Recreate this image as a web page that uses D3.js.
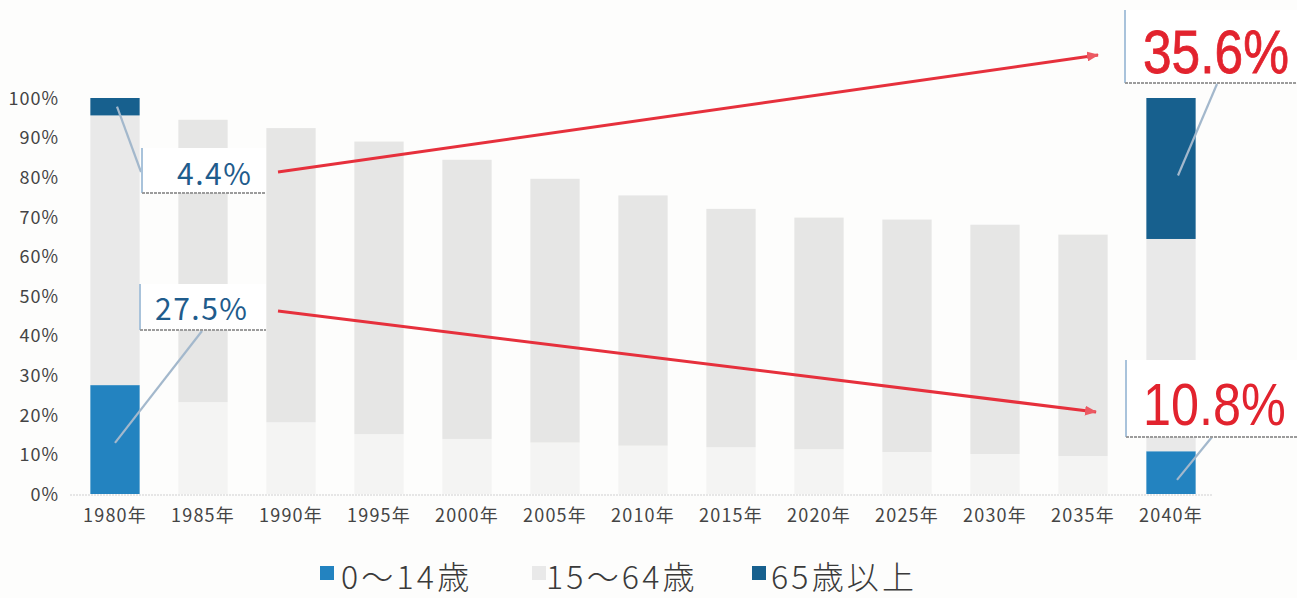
<!DOCTYPE html>
<html><head><meta charset="utf-8">
<script src="https://cdn.jsdelivr.net/npm/d3@7"></script>
<style>
html,body{margin:0;padding:0;background:#fdfdfc;}
svg{display:block;font-family:"Noto Sans CJK JP","Noto Sans",sans-serif;}
</style></head>
<body>
<svg id="chart" width="1297" height="598"></svg>
<script>
// ---- data ----
const years = ["1980年","1985年","1990年","1995年","2000年","2005年","2010年","2015年","2020年","2025年","2030年","2035年","2040年"];
const age0_14  = [27.5, 23.2, 18.1, 15.1, 13.9, 13.0, 12.2, 11.8, 11.3, 10.6, 10.1, 9.6, 10.8];
const age15_64 = [68.1, 71.3, 74.3, 73.9, 70.5, 66.6, 63.2, 60.2, 58.5, 58.7, 57.9, 55.9, 53.6];
const age65    = [4.4, 5.5, 7.6, 11.0, 15.6, 20.4, 24.6, 28.0, 30.2, 30.7, 32.0, 34.5, 35.6];
const yTicks = [0,10,20,30,40,50,60,70,80,90,100];
const seriesNames = ["0～14歳","15～64歳","65歳以上"];
const focusYears = ["1980年","2040年"];

const svg = d3.select("#chart");
const W = 1297, H = 598;
svg.append("rect").attr("width",W).attr("height",H).attr("fill","#fdfdfc");

const x = d3.scaleBand().domain(years).range([71,1215]).paddingInner(0.44).paddingOuter(0.22);
const y = d3.scaleLinear().domain([0,100]).range([494,98]);

const rows = years.map((yr,i)=>({year:yr, a:age0_14[i], b:age15_64[i], c:age65[i]}));
const keys = ["a","b","c"];
const stack = d3.stack().keys(keys)(rows);

const fullColors = {a:"#2383c0", b:"#e9e9e9", c:"#17608e"};
const fadeColors = {a:"#f4f4f3", b:"#e6e6e5", c:"none"};

// baseline
svg.append("line").attr("x1",70).attr("x2",1212).attr("y1",y(0)+1).attr("y2",y(0)+1)
  .attr("stroke","#cfcfcf").attr("stroke-width",1.2).attr("stroke-dasharray","2,1");

// bars
stack.forEach(s=>{
  svg.append("g").selectAll("rect").data(s).join("rect")
    .attr("x",d=>x(d.data.year))
    .attr("width",x.bandwidth())
    .attr("y",d=>y(d[1]))
    .attr("height",d=>y(d[0])-y(d[1]))
    .attr("fill",d=> focusYears.includes(d.data.year) ? fullColors[s.key] : fadeColors[s.key]);
});

// y axis
const yAxis = d3.axisLeft(y).tickValues(yTicks).tickFormat(d=>d+"%").tickSize(0).tickPadding(0);
const gy = svg.append("g").attr("transform","translate(59,0)").call(yAxis);
gy.select(".domain").remove();
gy.selectAll("text").attr("font-size",18).attr("fill","#444").attr("letter-spacing",1)
  .attr("font-family",'"Noto Sans CJK JP","Noto Sans",sans-serif').attr("dy","0.35em");

// x axis
const xAxis = d3.axisBottom(x).tickSize(0).tickPadding(0);
const gx = svg.append("g").attr("transform","translate(0,506)").call(xAxis);
gx.select(".domain").remove();
gx.selectAll("text").attr("font-size",18).attr("fill","#444").attr("letter-spacing",1.2)
  .attr("font-family",'"Noto Sans CJK JP","Noto Sans",sans-serif').attr("dy","0.9em");

// ---- annotations ----
const cx = yr => x(yr)+x.bandwidth()/2;
const leaderColor = "#a3b8cc";

function box(x0,y0,w,h){
  const g = svg.append("g");
  g.append("rect").attr("x",x0).attr("y",y0).attr("width",w).attr("height",h).attr("fill","#ffffff");
  g.append("line").attr("x1",x0).attr("x2",x0).attr("y1",y0).attr("y2",y0+h)
    .attr("stroke","#a9c3db").attr("stroke-width",2);
  g.append("line").attr("x1",x0).attr("x2",x0+w).attr("y1",y0+h).attr("y2",y0+h)
    .attr("stroke","#9c9c9c").attr("stroke-width",2).attr("stroke-dasharray","3,1");
  return g;
}

// leader lines (drawn beneath boxes)
const leaders = [
  {from:[cx("1980年")+2, y(100-age65[0]/2)], to:[141,172]},
  {from:[cx("1980年"), y(age0_14[0]*0.47)], to:[202,331]},
  {from:[cx("2040年")+7, y(100-age65[12]*0.55)], to:[1217,84]},
  {from:[cx("2040年")+6, y(age0_14[12]*0.33)], to:[1212,437]}
];
leaders.forEach(l=>{
  svg.append("line").attr("x1",l.from[0]).attr("y1",l.from[1]).attr("x2",l.to[0]).attr("y2",l.to[1])
    .attr("stroke",leaderColor).attr("stroke-width",2.2);
});

box(142,148,124,45);
box(140,284,126,46);
box(1125,10,172,73);
box(1126,360,171,77);

svg.append("text").attr("x",177).attr("y",185).text(age65[0].toFixed(1)+"%")
  .attr("font-size",30).attr("fill","#1f5c8c").attr("letter-spacing",1.5);
svg.append("text").attr("x",155).attr("y",320).text(age0_14[0].toFixed(1)+"%")
  .attr("font-size",30).attr("fill","#1f5c8c").attr("letter-spacing",1.5);

svg.append("text").attr("transform","translate(1143,73) scale(0.83,1)").text(age65[12].toFixed(1)+"%")
  .attr("font-family",'"Liberation Sans",Arial,sans-serif')
  .attr("font-size",62).attr("fill","#e2232e").attr("stroke","#e2232e").attr("stroke-width",0.8);
svg.append("text").attr("transform","translate(1143,425) scale(0.84,1)").text(age0_14[12].toFixed(1)+"%")
  .attr("font-family",'"Liberation Sans",Arial,sans-serif')
  .attr("font-size",60).attr("fill","#e2232e");

// red arrows
const defs = svg.append("defs");
defs.append("marker").attr("id","arr").attr("viewBox","0 0 12 10").attr("refX",11).attr("refY",5)
  .attr("markerWidth",12).attr("markerHeight",10).attr("markerUnits","userSpaceOnUse").attr("orient","auto")
  .append("path").attr("d","M0,0 L12,5 L0,10 z").attr("fill","#ec5a63");
const arrows = [
  {from:[278,172], to:[1098,55]},
  {from:[278,311], to:[1096,412]}
];
arrows.forEach(a=>{
  svg.append("line").attr("x1",a.from[0]).attr("y1",a.from[1]).attr("x2",a.to[0]).attr("y2",a.to[1])
    .attr("stroke","#e6303c").attr("stroke-width",3).attr("marker-end","url(#arr)");
});

// legend
const legendItems = [
  {name:seriesNames[0], color:fullColors.a, sx:320, tx:341},
  {name:seriesNames[1], color:"#e9e9e9", sx:532, tx:546},
  {name:seriesNames[2], color:fullColors.c, sx:752, tx:771}
];
legendItems.forEach(it=>{
  svg.append("rect").attr("x",it.sx).attr("y",566).attr("width",14).attr("height",14).attr("fill",it.color);
  svg.append("text").attr("x",it.tx).attr("y",589).text(it.name)
    .attr("font-size",32).attr("font-weight",300).attr("fill","#3a3a3a").attr("letter-spacing",3.2);
});
</script>
</body></html>
